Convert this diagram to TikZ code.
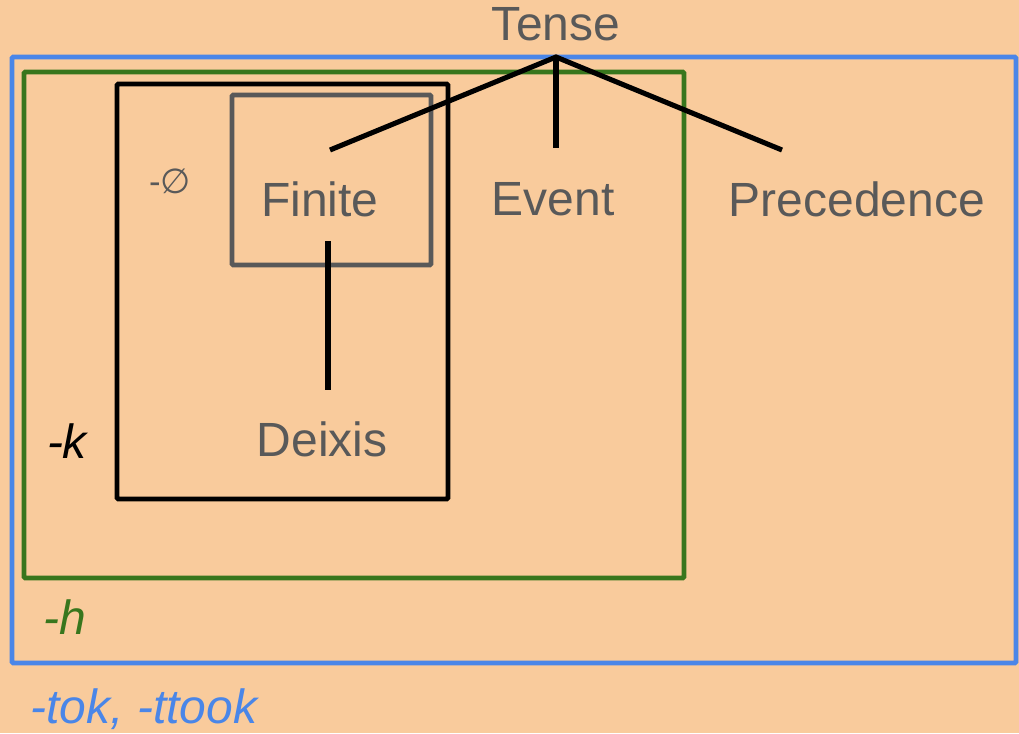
\documentclass[tikz,border=0pt]{standalone}
\usepackage{fontspec}
\setmainfont{Liberation Sans}
\newfontfamily\djv{DejaVu Sans}
\definecolor{bg}{HTML}{F9CB9C}
\definecolor{txtgray}{HTML}{595959}
\definecolor{gblue}{HTML}{4A86E8}
\definecolor{ggreen}{HTML}{38761D}
\begin{document}
\begin{tikzpicture}[x=0.75pt,y=-0.75pt,
  word/.style={text=txtgray,font=\fontsize{36}{40}\selectfont,inner sep=0pt},
  tag/.style={font=\fontsize{36}{40}\selectfont\itshape,inner sep=0pt},
  boxline/.style={line width=3.6pt},
  treeline/.style={line width=3.8pt,black}]
\fill[bg] (0,0) rectangle (1019,733);
\useasboundingbox (0,0) rectangle (1019,733);
% boxes
\draw[boxline,gblue,rounded corners=1pt] (12,57) rectangle (1016,663);
\draw[boxline,ggreen,rounded corners=1pt] (24,72) rectangle (684,578);
\draw[boxline,black,rounded corners=1pt] (117,84) rectangle (448,499);
\draw[boxline,txtgray,rounded corners=1pt] (232,95) rectangle (431,265);
% words
\node[word] (tense) at (556,24) {Tense};
\node[word] (finite) at (320,199) {Finite};
\node[word] (event) at (553,199) {Event};
\node[word] (prec) at (857,199) {Precedence};
\node[word] (deixis) at (322,439) {Deixis};
% tags
\node[tag,text=black] (k) at (67,441) {-k};
\node[tag,text=ggreen] (h) at (65,617) {-h};
\node[tag,text=gblue] (tok) at (144,709) {-tok, -ttook};
\node[text=txtgray,inner sep=0pt,font=\fontsize{26}{30}\selectfont] (null) at (170,181) {-{\djv ∅}};
% tree
\coordinate (apex) at (556,57);
\coordinate (fin) at (330,150);
\coordinate (ev) at (556,148);
\coordinate (pr) at (782,150);
\coordinate (dtop) at (328,241);
\coordinate (dbot) at (328,390);
\draw[treeline] (fin) -- (apex) -- (pr);
\draw[treeline] (apex) -- (ev);
\draw[treeline] (dtop) -- (dbot);
\end{tikzpicture}
\end{document}
